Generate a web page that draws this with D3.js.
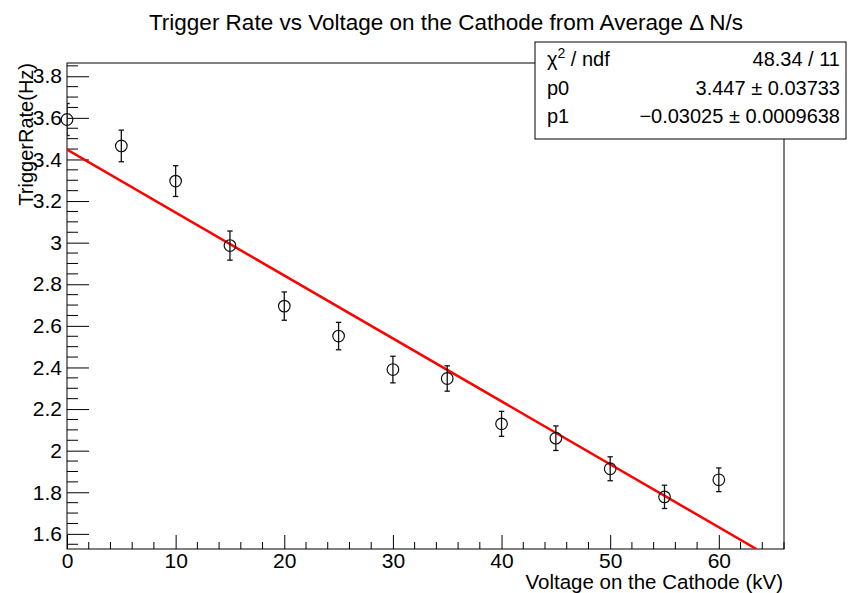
<!DOCTYPE html>
<html>
<head>
<meta charset="utf-8">
<script src="https://d3js.org/d3.v7.min.js"></script>
<style>
  html, body { margin: 0; padding: 0; background: #fff; }
  svg { display: block; }
  text { font-family: "Liberation Sans", Arial, Helvetica, sans-serif; fill: #000; }
</style>
</head>
<body>
<svg id="chart" width="848" height="593"></svg>
<script>
// Measured trigger rate at each cathode voltage
const voltage = [0, 5, 10, 15, 20, 25, 30, 35, 40, 45, 50, 55, 60];
const rate    = [3.592, 3.465, 3.296, 2.986, 2.695, 2.551, 2.390, 2.347, 2.129, 2.060, 1.913, 1.778, 1.860];
const rateErr = [0.077, 0.076, 0.074, 0.070, 0.068, 0.066, 0.064, 0.061, 0.060, 0.059, 0.0575, 0.056, 0.057];

// Linear fit results: rate = p0 + p1 * V
const p0 = 3.447, p1 = -0.03025;
const statRows = [
  { name: "χ", sup: "2", rest: " / ndf", value: "48.34 / 11" },
  { name: "p0", value: "3.447 ± 0.03733" },
  { name: "p1", value: "−0.03025 ± 0.0009638" }
];

const xMajor = [0, 10, 20, 30, 40, 50, 60];
const yMajor = [1.6, 1.8, 2, 2.2, 2.4, 2.6, 2.8, 3, 3.2, 3.4, 3.6, 3.8];

const titleText = "Trigger Rate vs Voltage on the Cathode from Average Δ N/s";
const xTitle = "Voltage on the Cathode (kV)";
const yTitle = "TriggerRate(Hz)";

const svg = d3.select("#chart");
const frame = { left: 67, right: 784, top: 63, bottom: 549 };

// Axis range: data extent (with errors) plus 10% margin, x starting at zero
const yLo = d3.min(rate.map((r, i) => r - rateErr[i]));
const yHi = d3.max(rate.map((r, i) => r + rateErr[i]));
const yPad = 0.1 * (yHi - yLo);
const x = d3.scaleLinear().domain([0, 66]).range([frame.left, frame.right]);
const y = d3.scaleLinear().domain([yLo - yPad, yHi + yPad]).range([frame.bottom, frame.top]);

// Frame box
svg.append("rect")
  .attr("x", frame.left).attr("y", frame.top)
  .attr("width", frame.right - frame.left).attr("height", frame.bottom - frame.top)
  .attr("fill", "none").attr("stroke", "#000").attr("stroke-width", 1);

const tickFont = 21;

// X axis: ticks point up into the frame
const xMinor = d3.range(0, 66.001, 2).filter(v => !xMajor.includes(v));
const xAxis = svg.append("g").attr("transform", `translate(0,${frame.bottom})`);
xAxis.call(d3.axisBottom(x).tickValues(xMajor).tickSize(-14).tickPadding(4).tickFormat(d3.format("d")));
xAxis.selectAll(".tick text").attr("font-size", tickFont).attr("dy", "0.71em");
xAxis.append("g").selectAll("line").data(xMinor).join("line")
  .attr("x1", d => x(d)).attr("x2", d => x(d)).attr("y1", 0).attr("y2", -7)
  .attr("stroke", "#000");

// Y axis: ticks point right into the frame
const yMinor = d3.range(31, 78).map(k => k * 0.05).filter(v =>
  v >= y.domain()[0] && v <= y.domain()[1] && !yMajor.some(m => Math.abs(m - v) < 1e-6));
const yAxis = svg.append("g").attr("transform", `translate(${frame.left},0)`);
yAxis.call(d3.axisLeft(y).tickValues(yMajor).tickSize(-22).tickPadding(5).tickFormat(d => d3.format("")(+d.toFixed(1))));
yAxis.selectAll(".tick text").attr("font-size", tickFont).attr("x", -5);
yAxis.append("g").selectAll("line").data(yMinor).join("line")
  .attr("x1", 0).attr("x2", 11).attr("y1", d => y(d)).attr("y2", d => y(d))
  .attr("stroke", "#000");
svg.selectAll(".tick line").attr("stroke", "#000");
svg.selectAll(".domain").attr("d", null);

// Clip region for the plotted marks
svg.append("clipPath").attr("id", "plotArea").append("rect")
  .attr("x", frame.left).attr("y", frame.top)
  .attr("width", frame.right - frame.left).attr("height", frame.bottom - frame.top);

// Fit line from V = 0 until it leaves the frame at the bottom
const vEnd = Math.min(66, (y.domain()[0] - p0) / p1);
svg.append("line")
  .attr("clip-path", "url(#plotArea)")
  .attr("x1", x(0)).attr("y1", y(p0))
  .attr("x2", x(vEnd)).attr("y2", y(p0 + p1 * vEnd))
  .attr("stroke", "#ff0000").attr("stroke-width", 2.5);

// Data points with error bars
const pts = svg.append("g").attr("clip-path", "url(#plotArea)");
const capW = 2.7;
voltage.forEach((v, i) => {
  const cx = x(v), top = y(rate[i] + rateErr[i]), bot = y(rate[i] - rateErr[i]);
  pts.append("line").attr("x1", cx).attr("x2", cx).attr("y1", top).attr("y2", bot)
    .attr("stroke", "#111").attr("stroke-width", 1.3);
  [top, bot].forEach(yy => pts.append("line")
    .attr("x1", cx - capW).attr("x2", cx + capW).attr("y1", yy).attr("y2", yy)
    .attr("stroke", "#111").attr("stroke-width", 1.3));
});
svg.append("g").selectAll("circle").data(voltage).join("circle")
  .attr("cx", d => x(d)).attr("cy", (d, i) => y(rate[i])).attr("r", 5.8)
  .attr("fill", "none").attr("stroke", "#111").attr("stroke-width", 1.2);

// Titles
svg.append("text").attr("x", 446).attr("y", 30).attr("text-anchor", "middle")
  .attr("font-size", 22.5).text(titleText);
svg.append("text").attr("x", frame.right - 1).attr("y", 589).attr("text-anchor", "end")
  .attr("font-size", 20.5).text(xTitle);
svg.append("text").attr("transform", `translate(33,${frame.top}) rotate(-90)`)
  .attr("text-anchor", "end").attr("font-size", 20).text(yTitle);

// Fit statistics box
const box = { x: 535, y: 42, w: 311, h: 97 };
svg.append("rect").attr("x", box.x).attr("y", box.y).attr("width", box.w).attr("height", box.h)
  .attr("fill", "#fff").attr("stroke", "#000").attr("stroke-width", 1);
const rowBase = [66, 94.5, 123];
statRows.forEach((r, i) => {
  const t = svg.append("text").attr("x", 547).attr("y", rowBase[i]).attr("font-size", 20);
  t.append("tspan").text(r.name);
  if (r.sup) {
    t.append("tspan").attr("dy", -8).attr("font-size", 14).text(r.sup);
    t.append("tspan").attr("dy", 8).text(r.rest);
  }
  svg.append("text").attr("x", 840).attr("y", rowBase[i]).attr("text-anchor", "end")
    .attr("font-size", 20).text(r.value);
});
</script>
</body>
</html>
